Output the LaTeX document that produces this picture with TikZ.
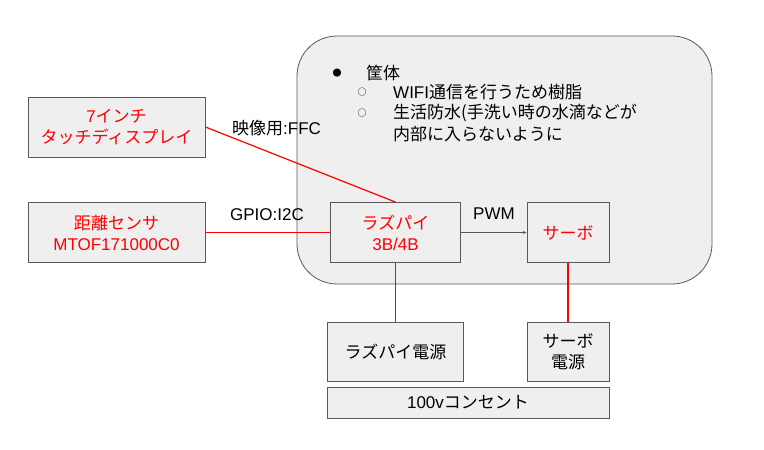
\documentclass[tikz,border=0pt]{standalone}
\usepackage{fontspec}
\setmainfont{Noto Sans CJK JP}
\newfontfamily\latin{Liberation Sans}
\usetikzlibrary{arrows.meta}

\definecolor{boxfill}{HTML}{EFEFEF}
\definecolor{boxline}{HTML}{595959}
\definecolor{wirered}{HTML}{FF0000}

\newcommand{\lt}[1]{{\latin #1}}

\begin{document}
\begin{tikzpicture}[x=1bp,y=-1bp,
    part/.style={rectangle,draw=boxline,fill=boxfill,line width=0.8bp,
      align=center,inner sep=0pt,font=\fontsize{17bp}{21bp}\selectfont},
    redpart/.style={part,text=wirered},
    wire/.style={draw=wirered,line width=1.2bp},
    tag/.style={font=\fontsize{17bp}{21bp}\selectfont,inner sep=0pt},
    bulletmark/.style={font=\fontsize{9bp}{10bp}\selectfont,inner sep=0pt}]

  \useasboundingbox (0,0) rectangle (764,450);

  % case
  \node[rectangle,draw=boxline,fill=boxfill,line width=0.8bp,rounded corners=40bp,
    minimum width=415bp,minimum height=248bp] (case) at (504.5,160) {};
  \node[bulletmark] (dot1) at (337,73) {●};
  \node[tag,anchor=west] (casetitle) at (366,73) {筐体};
  \node[bulletmark] (dot2) at (362,92) {○};
  \node[tag,anchor=west] (caseresin) at (393,92) {\lt{WIFI}通信を行うため樹脂};
  \node[bulletmark] (dot3) at (362,113) {○};
  \node[tag,anchor=west] (casewater) at (393,113) {生活防水(手洗い時の水滴などが};
  \node[tag,anchor=west] (casewater2) at (393,134) {内部に入らないように};

  % parts
  \node[redpart,minimum width=177bp,minimum height=60bp] (display) at (116.5,127)
    {\lt{7}インチ\\タッチディスプレイ};
  \node[redpart,minimum width=177bp,minimum height=60bp] (sensor) at (116.5,232.5)
    {距離センサ\\\lt{MTOF171000C0}};
  \node[redpart,minimum width=130bp,minimum height=60bp] (raspi) at (395.5,232.5)
    {ラズパイ\\\lt{3B/4B}};
  \node[redpart,minimum width=82bp,minimum height=60bp] (servo) at (568,232.5) {サーボ};
  \node[part,minimum width=136bp,minimum height=59bp] (raspipower) at (395.5,351.5)
    {ラズパイ電源};
  \node[part,minimum width=82bp,minimum height=59bp] (servopower) at (568,351.5)
    {サーボ\\電源};
  \node[part,minimum width=282bp,minimum height=31bp] (outlet) at (468,402.5)
    {\lt{100v}コンセント};

  % connections
  \draw[wire] (display.east) -- (raspi.north);
  \draw[wire] (sensor.east) -- (raspi.west);
  \draw[wire] (raspi.south) -- (raspipower.north);
  \draw[wire] (servo.south) -- (servopower.north);
  \draw[draw=boxline,line width=0.6bp,-{Stealth[length=4bp,width=3bp]}]
    (raspi.east) -- (servo.west);

  \node[tag,anchor=west] (ffc) at (232,128) {映像用\lt{:FFC}};
  \node[tag] (i2c) at (267,215) {\lt{GPIO:I2C}};
  \node[tag] (pwm) at (494,214) {\lt{PWM}};

\end{tikzpicture}
\end{document}
